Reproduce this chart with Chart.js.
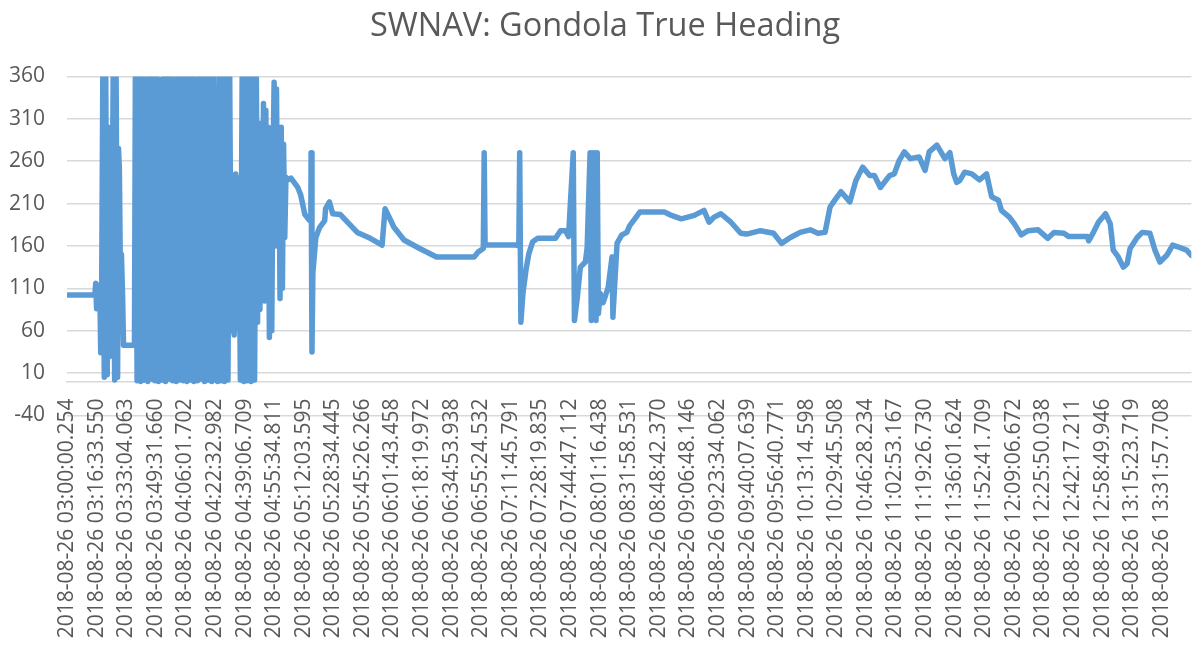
<!DOCTYPE html>
<html><head><meta charset="utf-8">
<script src="https://cdn.jsdelivr.net/npm/chart.js@4.4.0/dist/chart.umd.min.js"></script>
<style>html,body{margin:0;padding:0;background:#fff;}#wrap{width:1204px;height:647px;position:relative;}</style>
</head><body><div id="wrap"><canvas id="c" width="1204" height="647"></canvas></div>
<script>
const chartTitle = 'SWNAV: Gondola True Heading';
const tickLabels = [
 '2018-08-26 03:00:00.254','2018-08-26 03:16:33.550','2018-08-26 03:33:04.063','2018-08-26 03:49:31.660',
 '2018-08-26 04:06:01.702','2018-08-26 04:22:32.982','2018-08-26 04:39:06.709','2018-08-26 04:55:34.811',
 '2018-08-26 05:12:03.595','2018-08-26 05:28:34.445','2018-08-26 05:45:26.266','2018-08-26 06:01:43.458',
 '2018-08-26 06:18:19.972','2018-08-26 06:34:53.938','2018-08-26 06:55:24.532','2018-08-26 07:11:45.791',
 '2018-08-26 07:28:19.835','2018-08-26 07:44:47.112','2018-08-26 08:01:16.438','2018-08-26 08:31:58.531',
 '2018-08-26 08:48:42.370','2018-08-26 09:06:48.146','2018-08-26 09:23:34.062','2018-08-26 09:40:07.639',
 '2018-08-26 09:56:40.771','2018-08-26 10:13:14.598','2018-08-26 10:29:45.508','2018-08-26 10:46:28.234',
 '2018-08-26 11:02:53.167','2018-08-26 11:19:26.730','2018-08-26 11:36:01.624','2018-08-26 11:52:41.709',
 '2018-08-26 12:09:06.672','2018-08-26 12:25:50.038','2018-08-26 12:42:17.211','2018-08-26 12:58:49.946',
 '2018-08-26 13:15:23.719','2018-08-26 13:31:57.708'
];
const yTicks = { min: -40, max: 360, step: 50 };
// [position along category axis (in label intervals), true heading (deg)]
const headingSamples = [
 [0.00,102],[0.94,102],[0.97,116],[1.00,86],[1.04,114],[1.07,92],[1.11,108],[1.14,34],[1.17,100],
 [1.21,359],[1.26,5],[1.31,359],[1.36,8],[1.41,300],[1.46,30],[1.51,100],[1.56,359],[1.61,2],[1.66,359],[1.71,5],
 [1.74,275],[1.77,250],[1.81,110],[1.84,150],[1.88,100],[1.91,43],[2.28,43],
 [2.31,359],[2.37,1],[2.43,358],[2.49,0],[2.55,359],[2.61,2],[2.67,357],[2.73,0],[2.79,359],[2.85,3],
 [2.91,358],[2.97,1],[3.03,359],[3.09,0],[3.15,356],[3.21,2],[3.27,359],[3.33,0],[3.39,358],[3.45,3],
 [3.51,359],[3.57,1],[3.63,357],[3.69,0],[3.75,359],[3.81,2],[3.87,358],[3.93,1],[3.99,359],[4.05,0],
 [4.11,358],[4.17,2],[4.23,359],[4.29,0],[4.35,357],[4.41,1],[4.47,359],[4.53,3],[4.59,358],[4.65,0],
 [4.71,359],[4.77,2],[4.83,358],[4.89,0],[4.95,359],[5.01,2],[5.05,155],[5.09,0],
 [5.14,359],[5.20,1],[5.26,359],[5.32,0],[5.38,358],[5.44,2],[5.50,359],
 [5.55,60],[5.60,229],[5.65,55],[5.70,245],[5.75,62],[5.80,240],[5.86,2],
 [5.92,359],[5.98,0],[6.04,359],[6.10,1],[6.16,358],[6.22,0],[6.28,359],[6.34,2],[6.40,358],
 [6.44,70],[6.48,305],[6.52,85],[6.56,300],[6.60,100],[6.64,328],[6.68,95],[6.72,320],[6.76,110],[6.80,300],
 [6.84,52],[6.88,290],[6.92,60],[6.96,250],[7.00,353],[7.04,160],[7.08,345],[7.12,170],[7.16,300],[7.20,98],
 [7.24,300],[7.28,110],[7.32,280],[7.36,170],[7.40,241],
 [7.47,238],[7.57,240],[7.80,229],[7.90,220],[8.04,197],[8.20,190],[8.24,190],[8.25,270],[8.28,35],[8.31,128],
 [8.41,170],[8.54,182],[8.71,190],[8.74,204],[8.87,212],[8.98,198],[9.24,197],[9.48,188],[9.81,176],[10.25,169],
 [10.65,161],[10.75,204],[11.05,182],[11.39,167],[11.92,157],[12.49,147],[13.76,147],[13.90,153],[14.07,157],
 [14.10,270],[14.13,161],[15.17,161],[15.27,160],[15.30,270],[15.34,70],[15.41,104],[15.51,131],[15.61,151],
 [15.74,165],[15.91,169],[16.51,169],[16.68,178],[16.85,178],[16.95,171],[17.11,270],[17.15,72],[17.25,100],
 [17.35,135],[17.52,141],[17.58,158],[17.68,270],[17.72,72],[17.76,270],[17.80,75],[17.84,270],[17.88,72],
 [17.92,270],[17.96,80],[18.02,104],[18.12,93],[18.29,111],[18.42,147],[18.45,76],[18.59,163],[18.75,173],
 [18.92,176],[19.02,184],[19.19,192],[19.36,200],[20.19,200],[20.43,196],[20.76,192],[21.20,196],[21.53,202],
 [21.70,188],[21.87,194],[22.10,198],[22.44,188],[22.77,175],[22.97,174],[23.44,178],[23.88,175],[24.15,163],
 [24.45,170],[24.78,176],[25.12,179],[25.38,175],[25.62,176],[25.79,206],[25.95,214],[26.16,224],[26.46,212],
 [26.66,237],[26.89,253],[27.13,243],[27.29,243],[27.49,229],[27.80,243],[27.96,245],[28.13,261],[28.30,271],
 [28.50,263],[28.80,265],[29.00,249],[29.14,271],[29.40,279],[29.67,263],[29.84,270],[29.97,245],[30.07,235],
 [30.17,237],[30.34,247],[30.58,245],[30.84,238],[31.08,245],[31.25,218],[31.48,214],[31.58,202],[31.85,194],
 [32.02,186],[32.25,173],[32.48,178],[32.82,179],[33.15,169],[33.36,176],[33.69,175],[33.86,171],[34.49,171],
 [34.53,166],[34.69,176],[34.86,188],[35.10,198],[35.26,186],[35.36,155],[35.53,147],[35.70,135],[35.83,139],
 [35.93,157],[36.17,170],[36.34,176],[36.60,175],[36.77,155],[36.94,141],[37.17,149],[37.37,161],[37.54,159],
 [37.84,155],[38.00,149]
];

const FONT = 'Open Sans';
const TXT = '#595959';
new Chart(document.getElementById('c'), {
  type: 'line',
  data: {
    datasets: [{
      label: 'True Heading',
      data: headingSamples.map(([x, y]) => ({ x, y })),
      borderColor: '#5B9BD5',
      backgroundColor: '#5B9BD5',
      borderWidth: 5.5,
      pointRadius: 0,
      tension: 0,
      fill: false,
      clip: 0,
      borderJoinStyle: 'round',
      borderCapStyle: 'round'
    }]
  },
  options: {
    responsive: false,
    animation: false,
    devicePixelRatio: 1,
    layout: { padding: { left: 8, right: 2, top: 0, bottom: 231.5 } },
    plugins: {
      legend: { display: false },
      tooltip: { enabled: false },
      title: {
        display: true, text: chartTitle, color: TXT,
        font: { family: FONT, size: 32.5, weight: 'normal' },
        padding: { top: 7, bottom: 30.4 }
      }
    },
    scales: {
      x: {
        type: 'linear', min: 0, max: tickLabels.length,
        position: { y: 0 },
        grid: { display: false, drawTicks: false },
        border: { display: true, color: '#d9d9d9', width: 1.5 },
        afterBuildTicks: s => { s.ticks = tickLabels.map((_, i) => ({ value: i })); },
        ticks: {
          autoSkip: false, maxRotation: 90, minRotation: 90, padding: 17,
          color: TXT, font: { family: FONT, size: 21 },
          callback: v => tickLabels[v]
        }
      },
      y: {
        min: yTicks.min, max: yTicks.max,
        grid: { color: '#d9d9d9', lineWidth: 1.5, drawTicks: false },
        border: { display: false },
        afterFit: s => { s.width = 59; },
        ticks: { stepSize: yTicks.step, padding: 22, color: TXT, font: { family: FONT, size: 21 } }
      }
    }
  }
});
</script>
</body></html>
